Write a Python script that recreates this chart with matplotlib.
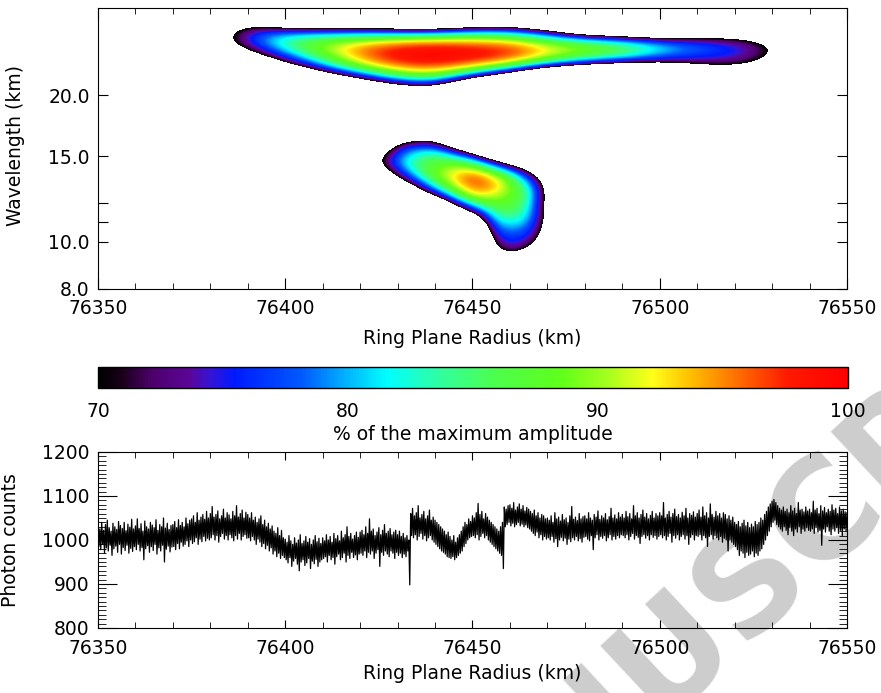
import numpy as np
import matplotlib
matplotlib.use('Agg')
import matplotlib.pyplot as plt
from matplotlib.colors import LinearSegmentedColormap, Normalize
from matplotlib.cm import ScalarMappable
from matplotlib.ticker import MultipleLocator, FixedLocator, FixedFormatter

plt.rcParams['font.family'] = 'DejaVu Sans'
plt.rcParams['font.size'] = 13.5

# ---- wavelet amplitude (% of max), upper band ----
upper_radius = [76370, 76380, 76390, 76400, 76410, 76420, 76430, 76440, 76450,
                76460, 76470, 76480, 76490, 76500, 76510, 76520, 76530, 76540]
upper_wl = [19, 20, 21, 22, 23, 24, 25, 26, 27, 28, 29, 30]
upper_amp = [
    [40, 40, 40, 40, 40, 40, 40, 40, 40, 40, 40, 40, 40, 40, 40, 40, 40, 40],
    [40, 40, 40, 40, 40, 40, 51, 54, 40, 40, 40, 40, 40, 40, 40, 40, 40, 40],
    [40, 40, 40, 40, 45, 60, 72, 76, 53, 40, 40, 40, 40, 40, 40, 44, 45, 40],
    [40, 40, 42, 50, 66, 78, 87, 90, 79, 66, 48, 42, 42, 44, 58, 62, 58, 46],
    [40, 46, 52, 67, 80, 90, 96, 97, 94, 88, 77, 70, 66, 66, 70, 71, 66, 52],
    [44, 54, 64, 77, 87, 95, 99, 100, 99, 97, 91, 86, 83, 78, 76, 75, 70, 56],
    [46, 60, 72, 83, 90, 95, 98, 99, 98, 97, 92, 90, 87, 82, 78, 76, 71, 57],
    [48, 63, 76, 84, 87, 89, 91, 92, 92, 91, 86, 81, 78, 74, 73, 72, 67, 52],
    [48, 62, 75, 77, 77, 78, 77, 77, 80, 80, 74, 62, 60, 55, 61, 62, 58, 46],
    [44, 58, 70, 63, 62, 61, 59, 57, 64, 65, 57, 42, 40, 40, 40, 45, 46, 40],
    [40, 47, 60, 43, 40, 40, 40, 40, 44, 47, 40, 40, 40, 40, 40, 40, 40, 40],
    [40, 40, 46, 40, 40, 40, 40, 40, 40, 40, 40, 40, 40, 40, 40, 40, 40, 40],
]

# ---- lower band ----
lower_radius = [76420, 76425, 76430, 76435, 76440, 76445, 76450, 76455, 76460,
                76465, 76470, 76475]
lower_wl = [9.0, 9.5, 10.0, 10.5, 11.0, 11.5, 12.0, 12.5, 13.0, 13.5, 14.0,
            14.5, 15.0, 15.5, 16.0, 16.5]
lower_amp = [
    [40, 40, 40, 40, 40, 40, 40, 46, 58, 50, 45, 40],
    [40, 40, 40, 40, 40, 40, 40, 66, 74, 67, 57, 47],
    [40, 40, 40, 40, 40, 40, 42, 72, 76, 74, 63, 48],
    [40, 40, 40, 40, 40, 40, 45, 76, 79, 77, 66, 50],
    [40, 40, 40, 40, 40, 42, 57, 80, 83, 80, 67, 50],
    [40, 40, 40, 40, 42, 60, 73, 84, 86, 82, 67, 50],
    [40, 40, 40, 46, 59, 74, 85, 88, 88, 83, 67, 50],
    [40, 42, 44, 62, 74, 85, 93, 92, 89, 84, 67, 50],
    [44, 50, 60, 73, 83, 91, 96, 95, 89, 82, 66, 50],
    [52, 58, 70, 80, 88, 93, 97, 93, 87, 77, 63, 48],
    [57, 65, 76, 84, 89, 92, 92, 87, 79, 69, 56, 45],
    [60, 69, 79, 85, 87, 88, 85, 77, 67, 59, 48, 40],
    [59, 68, 78, 83, 85, 81, 75, 63, 50, 46, 40, 40],
    [53, 63, 75, 79, 79, 72, 61, 44, 40, 40, 40, 40],
    [46, 53, 69, 72, 72, 60, 46, 40, 40, 40, 40, 40],
    [40, 44, 58, 64, 63, 46, 40, 40, 40, 40, 40, 40],
]

# ---- photon counts ----
# upper excursions, at 76350.0, 76350.5, ... 76550.0
counts_hi = [
    1030, 1025, 1040, 1022, 1035, 1045, 1028, 1020, 1038, 1030, 1024, 1042, 1033, 1026, 1040, 1021, 1036, 1029, 1047, 1025,
    1032, 1048, 1026, 1037, 1020, 1043, 1030, 1025, 1040, 1034, 1028, 1046, 1022, 1035, 1030, 1050, 1027, 1038, 1024, 1033,
    1035, 1042, 1028, 1046, 1033, 1040, 1030, 1050, 1037, 1045, 1048, 1055, 1040, 1062, 1045, 1052, 1058, 1047, 1065, 1050,
    1060, 1076, 1052, 1058, 1066, 1048, 1055, 1070, 1050, 1062, 1057, 1048, 1065, 1055, 1078, 1052, 1060, 1068, 1050, 1063,
    1058, 1050, 1062, 1045, 1052, 1040, 1048, 1055, 1035, 1045, 1030, 1038, 1025, 1032, 1020, 1015, 1028, 1010, 1022, 1005,
    1002, 995, 1010, 998, 990, 1005, 993, 1000, 1012, 992, 998, 1008, 995, 1003, 990, 1000, 1010, 996, 1004, 992,
    1005, 998, 1012, 1000, 1008, 995, 1015, 1003, 1010, 998, 1020, 1005, 1012, 1030, 1008, 1015, 1002, 1010, 1018, 1006,
    1018, 1022, 1012, 1030, 1015, 1048, 1020, 1025, 1010, 1018, 1028, 1012, 1022, 1035, 1015, 1020, 1026, 1012, 1018, 1022,
    1012, 1020, 1008, 1015, 1005, 1010, 1000, 1060, 1072, 1055, 1062, 1078, 1050, 1058, 1065, 1048, 1055, 1068, 1045, 1052,
    1045, 1040, 1035, 1030, 1025, 1020, 1012, 1018, 1008, 1000, 1010, 995, 1005, 1012, 1020, 1030, 1040, 1035, 1048, 1042,
    1055, 1050, 1062, 1083, 1058, 1065, 1048, 1060, 1052, 1045, 1040, 1035, 1030, 1025, 1020, 1030, 1040, 1075, 1070, 1078,
    1080, 1072, 1085, 1068, 1075, 1082, 1070, 1078, 1066, 1074, 1070, 1065, 1060, 1068, 1055, 1062, 1050, 1058, 1055, 1048,
    1050, 1045, 1055, 1040, 1062, 1048, 1052, 1043, 1058, 1046, 1050, 1040, 1055, 1076, 1047, 1052, 1044, 1060, 1048, 1053,
    1055, 1048, 1062, 1050, 1045, 1058, 1052, 1066, 1047, 1055, 1050, 1060, 1046, 1053, 1072, 1050, 1057, 1048, 1062, 1052,
    1058, 1050, 1065, 1053, 1060, 1048, 1078, 1055, 1062, 1050, 1058, 1068, 1052, 1060, 1048, 1056, 1065, 1050, 1060, 1055,
    1062, 1055, 1085, 1050, 1058, 1065, 1052, 1060, 1070, 1053, 1058, 1050, 1063, 1055, 1072, 1050, 1060, 1056, 1064, 1052,
    1060, 1068, 1052, 1075, 1055, 1062, 1050, 1082, 1058, 1052, 1065, 1055, 1060, 1050, 1062, 1058, 1048, 1055, 1045, 1052,
    1040, 1035, 1042, 1030, 1038, 1045, 1032, 1040, 1028, 1036, 1030, 1042, 1035, 1040, 1050, 1045, 1058, 1065, 1075, 1082,
    1088, 1092, 1085, 1078, 1072, 1068, 1075, 1065, 1070, 1062, 1078, 1066, 1072, 1060, 1085, 1068, 1070, 1064, 1075, 1066,
    1070, 1062, 1088, 1068, 1072, 1060, 1078, 1066, 1074, 1062, 1070, 1065, 1080, 1068, 1072, 1060, 1075, 1066, 1070, 1064,
    1062,
]
# lower excursions, at 76350.25, 76350.75, ... 76549.75
counts_lo = [
    985, 978, 990, 970, 982, 975, 988, 965, 980, 986, 972, 990, 968, 983, 976, 988, 970, 981, 974, 985,
    978, 990, 975, 983, 955, 980, 987, 972, 985, 976, 990, 968, 982, 975, 988, 950, 979, 986, 973, 984,
    985, 978, 992, 980, 995, 986, 990, 998, 985, 1000, 992, 996, 1005, 990, 1002, 996, 1008, 998, 1004, 1000,
    1005, 1012, 1000, 1010, 995, 1008, 1015, 1002, 1010, 1000, 1012, 1005, 998, 1010, 1002, 1015, 1000, 1008, 1012, 1004,
    1005, 998, 1008, 1000, 990, 1002, 995, 985, 992, 980, 988, 975, 982, 968, 975, 962, 970, 958, 965, 960,
    955, 948, 960, 940, 952, 958, 945, 930, 950, 955, 942, 948, 958, 935, 952, 946, 956, 940, 950, 955,
    958, 962, 950, 965, 955, 960, 945, 962, 968, 955, 960, 970, 950, 965, 958, 972, 960, 966, 955, 968,
    970, 965, 975, 960, 972, 968, 975, 958, 970, 978, 940, 972, 965, 975, 968, 962, 975, 970, 958, 972,
    965, 970, 960, 968, 962, 975, 898, 1010, 1005, 1012, 1000, 1008, 1015, 1002, 1010, 998, 1005, 1010, 1000, 995,
    990, 985, 980, 975, 972, 968, 962, 960, 958, 962, 955, 960, 965, 970, 975, 985, 992, 1000, 1005, 1008,
    1010, 1005, 1012, 1000, 1008, 1015, 1005, 1010, 1000, 995, 990, 985, 980, 975, 970, 965, 935, 1030, 1035, 1040,
    1032, 1038, 1030, 1035, 1040, 1032, 1036, 1030, 1034, 1028, 1025, 1020, 1015, 1010, 1018, 1005, 1012, 1000, 1008, 1002,
    1005, 1000, 1008, 995, 1003, 985, 1000, 1006, 998, 1004, 990, 1002, 996, 1005, 1000, 1008, 998, 1003, 995, 1006,
    1008, 1002, 998, 1010, 978, 1005, 1012, 1000, 1008, 1004, 1010, 998, 1005, 1012, 1000, 1008, 1002, 1010, 1005, 1012,
    1010, 1005, 1012, 1000, 1008, 1015, 1002, 1010, 1006, 992, 1008, 1012, 1004, 1010, 1000, 1012, 1006, 1010, 1002, 1008,
    1012, 1005, 1010, 1000, 1008, 1015, 995, 1010, 1004, 1012, 1000, 1008, 1012, 1002, 1010, 990, 1006, 1012, 1000, 1010,
    1008, 1012, 1000, 1010, 1005, 985, 1008, 1012, 1002, 1010, 1005, 1000, 1008, 995, 1004, 1000, 975, 1000, 995, 990,
    985, 978, 965, 975, 970, 960, 972, 965, 968, 975, 962, 970, 965, 975, 980, 990, 1000, 1010, 1020, 1030,
    1040, 1045, 1035, 1030, 1025, 1020, 1030, 1022, 1012, 1028, 1020, 1010, 1025, 1018, 1030, 1015, 1025, 1020, 1028, 1022,
    1020, 1025, 1015, 1028, 1018, 1022, 988, 1025, 1018, 1030, 1020, 1012, 1025, 1020, 1028, 1015, 1022, 1010, 1025, 1020,
]
counts = np.empty(len(counts_hi) + len(counts_lo))
counts[0::2] = counts_hi
counts[1::2] = counts_lo
radius = np.linspace(76350, 76550, len(counts))

# IDL-like rainbow, 70..100 %
cmap = LinearSegmentedColormap.from_list('idl_rainbow', [
    (0.00, (0.0, 0.0, 0.0)),
    (0.03, (0.10, 0.0, 0.10)),
    (0.07, (0.30, 0.0, 0.42)),
    (0.12, (0.36, 0.02, 0.60)),
    (0.15, (0.20, 0.08, 0.85)),
    (0.18, (0.0, 0.10, 1.0)),
    (0.27, (0.0, 0.35, 1.0)),
    (0.33, (0.0, 0.70, 1.0)),
    (0.385, (0.0, 1.0, 1.0)),
    (0.46, (0.20, 1.0, 0.60)),
    (0.53, (0.30, 1.0, 0.30)),
    (0.62, (0.38, 1.0, 0.10)),
    (0.68, (0.65, 1.0, 0.12)),
    (0.74, (1.0, 1.0, 0.10)),
    (0.79, (1.0, 0.75, 0.0)),
    (0.85, (1.0, 0.45, 0.0)),
    (0.92, (1.0, 0.10, 0.0)),
    (1.00, (1.0, 0.0, 0.0)),
], N=256)
cmap.set_under((1, 1, 1, 0))
cmap.set_over((1, 0, 0))
norm = Normalize(vmin=70, vmax=100)

fig = plt.figure(figsize=(8.81, 6.93), dpi=100)

# ---------------- top panel ----------------
ax1 = fig.add_axes([0.1112, 0.583, 0.8502, 0.4055])
ax1.patch.set_alpha(0)
ax1.set_yscale('log')
dx_u = (upper_radius[1] - upper_radius[0]) / 2
dy_u = (upper_wl[1] - upper_wl[0]) / 2
ax1.imshow(np.array(upper_amp, dtype=float), origin='lower', cmap=cmap, norm=norm,
           extent=[upper_radius[0] - dx_u, upper_radius[-1] + dx_u,
                   upper_wl[0] - dy_u, upper_wl[-1] + dy_u],
           aspect='auto', interpolation='bicubic', interpolation_stage='data')
dx_l = (lower_radius[1] - lower_radius[0]) / 2
dy_l = (lower_wl[1] - lower_wl[0]) / 2
ax1.imshow(np.array(lower_amp, dtype=float), origin='lower', cmap=cmap, norm=norm,
           extent=[lower_radius[0] - dx_l, lower_radius[-1] + dx_l,
                   lower_wl[0] - dy_l, lower_wl[-1] + dy_l],
           aspect='auto', interpolation='bicubic', interpolation_stage='data')
ax1.set_xlim(76350, 76550)
ax1.set_ylim(8, 30.2)
ax1.yaxis.set_major_locator(FixedLocator([8, 10, 11, 12, 15, 20]))
ax1.yaxis.set_major_formatter(FixedFormatter(['8.0', '10.0', '', '', '15.0', '20.0']))
ax1.yaxis.set_minor_locator(FixedLocator([]))
ax1.xaxis.set_major_locator(MultipleLocator(50))
ax1.xaxis.set_minor_locator(MultipleLocator(10))
ax1.xaxis.set_major_formatter(plt.FuncFormatter(lambda v, p: '%d' % v))
ax1.tick_params(axis='both', which='both', direction='in', top=True, right=True)
ax1.tick_params(axis='x', which='major', length=8, pad=7)
ax1.tick_params(axis='x', which='minor', length=4)
ax1.tick_params(axis='y', which='major', length=7, pad=6)
ax1.set_xlabel('Ring Plane Radius (km)')
ax1.xaxis.set_label_coords(0.5, -0.142)
ax1.set_ylabel('Wavelength (km)')
ax1.yaxis.set_label_coords(-0.097, 0.51)

# ---------------- colour bar ----------------
cax = fig.add_axes([0.1112, 0.440, 0.8514, 0.0303])
cb = fig.colorbar(ScalarMappable(norm=norm, cmap=cmap), cax=cax,
                  orientation='horizontal')
cb.set_ticks([70, 80, 90, 100])
cb.set_ticklabels(['70', '80', '90', '100'])
cax.tick_params(length=0, pad=10)
cb.outline.set_linewidth(1.0)
cb.set_label('% of the maximum amplitude', labelpad=3)

# ---------------- bottom panel ----------------
ax3 = fig.add_axes([0.1112, 0.0938, 0.8502, 0.254])
ax3.patch.set_alpha(0)
ax3.plot(radius, counts, color='black', lw=0.9)
ax3.set_xlim(76350, 76550)
ax3.set_ylim(800, 1200)
ax3.xaxis.set_major_locator(MultipleLocator(50))
ax3.xaxis.set_minor_locator(MultipleLocator(10))
ax3.xaxis.set_major_formatter(plt.FuncFormatter(lambda v, p: '%d' % v))
ax3.yaxis.set_major_locator(MultipleLocator(100))
ax3.yaxis.set_minor_locator(MultipleLocator(10))
ax3.tick_params(axis='both', which='both', direction='in', top=True, right=True)
ax3.tick_params(axis='x', which='major', length=6, pad=8)
ax3.tick_params(axis='x', which='minor', length=4)
ax3.tick_params(axis='y', which='major', length=14, pad=6)
ax3.tick_params(axis='y', which='minor', length=6)
ax3.set_xlabel('Ring Plane Radius (km)')
ax3.xaxis.set_label_coords(0.5, -0.205)
ax3.set_ylabel('Photon counts')
ax3.yaxis.set_label_coords(-0.104, 0.5)

# watermark
fig.text(0.8445, 0.154, 'MANUSCRIPT', rotation=43, rotation_mode='anchor',
         ha='center', va='center', fontsize=100, fontweight='bold',
         color='#cdcdcd', zorder=-5)

fig.savefig('out.png', dpi=100)
